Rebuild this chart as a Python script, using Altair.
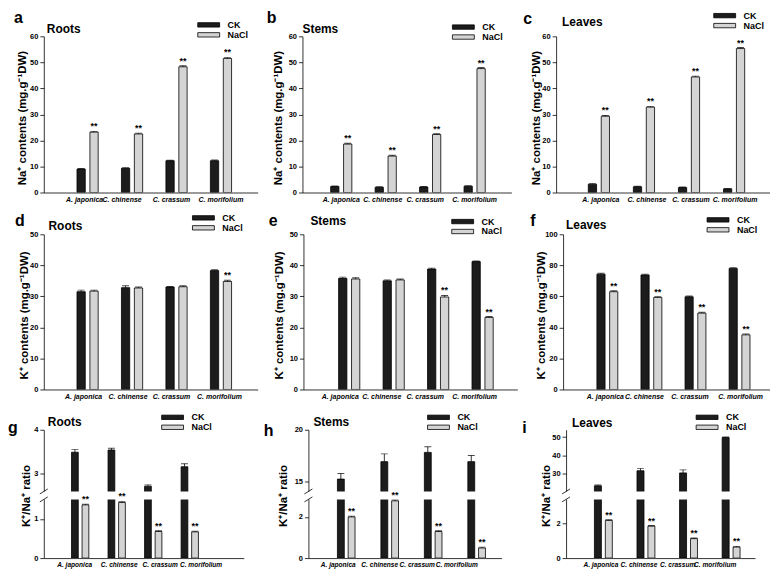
import altair as alt
import pandas as pd

species = ["A. japonica", "C. chinense", "C. crassum", "C. morifolium"]
treatments = ["CK", "NaCl"]

# (a) Na+ contents, roots
a_ck = [9.0, 9.3, 12.2, 12.2]
a_nacl = [23.2, 22.5, 48.3, 51.5]
a_ck_err = [0.2, 0.2, 0.2, 0.3]
a_nacl_err = [0.3, 0.3, 0.4, 0.4]
a_sig = [1, 1, 1, 1]
# (b) Na+ contents, stems
b_ck = [2.3, 2.0, 2.1, 2.4]
b_nacl = [18.6, 14.0, 22.3, 47.6]
b_ck_err = [0.2, 0.2, 0.2, 0.2]
b_nacl_err = [0.3, 0.3, 0.3, 0.4]
b_sig = [1, 1, 1, 1]
# (c) Na+ contents, leaves
c_ck = [3.2, 2.2, 1.9, 1.4]
c_nacl = [29.3, 32.8, 44.4, 55.3]
c_ck_err = [0.2, 0.2, 0.2, 0.2]
c_nacl_err = [0.3, 0.3, 0.3, 0.4]
c_sig = [1, 1, 1, 1]
# (d) K+ contents, roots
d_ck = [31.5, 32.8, 33.0, 38.3]
d_nacl = [31.7, 32.7, 33.1, 34.8]
d_ck_err = [0.5, 0.6, 0.2, 0.3]
d_nacl_err = [0.3, 0.3, 0.3, 0.4]
d_sig = [0, 0, 0, 1]
# (e) K+ contents, stems
e_ck = [35.8, 35.0, 38.8, 41.2]
e_nacl = [35.6, 35.3, 29.8, 23.2]
e_ck_err = [0.4, 0.3, 0.3, 0.2]
e_nacl_err = [0.4, 0.3, 0.5, 0.3]
e_sig = [0, 0, 1, 1]
# (f) K+ contents, leaves
f_ck = [74.3, 73.8, 59.7, 78.0]
f_nacl = [63.0, 59.3, 49.2, 35.2]
f_ck_err = [0.6, 0.5, 0.5, 0.5]
f_nacl_err = [0.6, 0.5, 0.6, 0.6]
f_sig = [1, 1, 1, 1]
# (g) K+/Na+ ratio, roots
g_ck = [3.49, 3.54, 2.72, 3.16]
g_nacl = [1.36, 1.42, 0.68, 0.67]
g_ck_err = [0.06, 0.04, 0.03, 0.07]
g_nacl_err = [0.02, 0.03, 0.02, 0.02]
g_sig = [1, 1, 1, 1]
# (h) K+/Na+ ratio, stems
h_ck = [15.2, 16.9, 17.8, 16.9]
h_nacl = [2.0, 2.78, 1.29, 0.49]
h_ck_err = [0.55, 0.75, 0.55, 0.6]
h_nacl_err = [0.04, 0.05, 0.04, 0.04]
h_sig = [1, 1, 1, 1]
# (i) K+/Na+ ratio, leaves
i_ck = [23.1, 31.4, 30.2, 49.7]
i_nacl = [2.15, 1.82, 1.11, 0.63]
i_ck_err = [0.5, 1.3, 1.7, 0.4]
i_nacl_err = [0.04, 0.04, 0.04, 0.04]
i_sig = [1, 1, 1, 1]

NA_TITLE = "Na⁺ contents (mg.g⁻¹DW)"
K_TITLE = "K⁺ contents (mg.g⁻¹DW)"
RATIO_TITLE = "K⁺/Na⁺ ratio"

FONT = "Liberation Sans"
CK_FILL = "#1c1c1c"
NACL_FILL = "#d4d4d4"
LEG_PATH = "M-5,-1H5V1H-5Z"
UP_H, GAP, LO_H = 62, 8, 59
H3 = UP_H + GAP + LO_H
H1, H2 = 157, 156

COLOR_SCALE = alt.Scale(domain=treatments, range=[CK_FILL, NACL_FILL])
OFFSET_SCALE = alt.Scale(domain=treatments, paddingInner=0.36, paddingOuter=0)


def x_axis(size, shifts):
    offset = {"condition": [{"test": "datum.value === '%s'" % s, "value": o}
                            for s, o in zip(species, shifts)], "value": 0}
    return alt.Axis(labelAngle=0, ticks=False, labelFont=FONT, labelFontStyle="italic",
                    labelFontWeight="bold", labelFontSize=size, labelColor="black",
                    labelPadding=3, labelOverlap=False, domainColor="black",
                    domainWidth=0.8, grid=False, title=None, labelOffset=offset)


def table(ck, nacl, ck_err, nacl_err, sig):
    vals = ck + nacl
    errs = ck_err + nacl_err
    return pd.DataFrame({
        "species": species * 2,
        "treatment": ["CK"] * len(species) + ["NaCl"] * len(species),
        "value": vals,
        "top": [v + e for v, e in zip(vals, errs)],
        "star": [""] * len(species) + ["**" if s else "" for s in sig],
    })


def band_scale(W, c1, step, band):
    n = len(species)
    pi = 1 - band / step
    po = min(1.0, (W / step - (n - pi)) / 2)
    step = W / (n - pi + 2 * po)
    align = (c1 - band / 2) / (W - step * (n - pi))
    align = max(0.0, min(1.0, align))
    return alt.Scale(domain=species, paddingInner=pi, paddingOuter=po, align=align)


def y_axis(values, title, tx, ty):
    return alt.Axis(values=values, tickSize=4, tickWidth=0.8, tickColor="black",
                    domainColor="black", domainWidth=0.8, labelFont=FONT,
                    labelFontWeight="bold", labelFontSize=7.5, labelColor="black",
                    labelPadding=2, grid=False, zindex=0,
                    title=title, titleFont=FONT, titleFontSize=11.5, titleFontWeight="bold",
                    titleColor="black", titleAngle=270, titleX=tx, titleY=ty,
                    titleBaseline="middle", titleAlign="center")


def legend(lx, ly):
    return alt.Legend(orient="none", legendX=lx, legendY=ly, title=None, direction="vertical",
                      symbolType=LEG_PATH, symbolSize=19.36, symbolStrokeColor="black",
                      symbolStrokeWidth=0.8, symbolOffset=6.25, labelOffset=14.5,
                      labelFont=FONT, labelFontWeight="bold", labelFontSize=9,
                      labelColor="black", rowPadding=0, padding=0)


def one_row():
    return alt.Chart(pd.DataFrame({"k": [0]}))


def labels(letter, name, lx, ly, tx, ty):
    src = alt.Chart(pd.DataFrame({"letter": [letter], "name": [name]}))
    let = src.mark_text(font=FONT, fontWeight="bold", fontSize=16, align="left",
                        baseline="alphabetic", color="black").encode(
        x=alt.value(lx), y=alt.value(ly), text="letter:N")
    nm = src.mark_text(font=FONT, fontWeight="bold", fontSize=12, align="left",
                       baseline="alphabetic", color="black").encode(
        x=alt.value(tx), y=alt.value(ty), text="name:N")
    return [let, nm]


def break_layers(W):
    mask = one_row().mark_rect(color="white").encode(
        x=alt.value(-3), x2=alt.value(W + 2), y=alt.value(UP_H), y2=alt.value(UP_H + GAP))
    s1 = one_row().mark_rule(color="black", strokeWidth=0.8).encode(
        x=alt.value(-4), y=alt.value(UP_H + 2.5), x2=alt.value(4), y2=alt.value(UP_H - 2.5))
    s2 = one_row().mark_rule(color="black", strokeWidth=0.8).encode(
        x=alt.value(-4), y=alt.value(UP_H + GAP + 2.5), x2=alt.value(4),
        y2=alt.value(UP_H + GAP - 2.5))
    return [mask, s1, s2]


def panel(df, W, H, xs, ysc, yaxis, leg, lab, shifts, xsize=7, mid=()):
    xa = x_axis(xsize, shifts)
    base = alt.Chart(df).encode(
        x=alt.X("species:N", scale=xs, axis=xa),
        xOffset=alt.XOffset("treatment:N", scale=OFFSET_SCALE),
    )
    bars = base.mark_bar(stroke="black", strokeWidth=0.8, clip=True).encode(
        y=alt.Y("value:Q", scale=ysc, axis=yaxis),
        color=alt.Color("treatment:N", scale=COLOR_SCALE, legend=leg))
    rules = base.mark_rule(color="black", strokeWidth=0.8, clip=True).encode(
        y=alt.Y("value:Q", scale=ysc, axis=yaxis), y2="top:Q")
    caps = base.mark_tick(color="black", thickness=0.9, size=7, orient="horizontal",
                          clip=True).encode(y=alt.Y("top:Q", scale=ysc, axis=yaxis))
    stars = base.transform_filter("datum.star != ''").mark_text(
        font=FONT, fontWeight="bold", fontSize=9, baseline="bottom", color="black"
    ).encode(y=alt.Y("top:Q", scale=ysc, axis=yaxis), text="star:N")
    layers = [bars, rules, caps] + list(mid) + [stars] + labels(*lab)
    return alt.layer(*layers).properties(width=W, height=H)


def simple_panel(df, W, H, xs, ydom, yvals, ytitle, tx, leg, lab, shifts):
    ysc = alt.Scale(domain=ydom, nice=False, zero=False)
    return panel(df, W, H, xs, ysc, y_axis(yvals, ytitle, tx, H * 0.52), leg, lab, shifts)


def broken_panel(df, W, xs, lo_max, up_min, up_max, yvals, tx, leg, lab, shifts):
    ysc = alt.Scale(domain=[0, lo_max, up_min, up_max], range=[H3, UP_H + GAP, UP_H, 0],
                    nice=False, zero=False)
    return panel(df, W, H3, xs, ysc, y_axis(yvals, RATIO_TITLE, tx, UP_H + GAP / 2),
                 leg, lab, shifts, xsize=6.6, mid=break_layers(W))


pa = simple_panel(table(a_ck, a_nacl, a_ck_err, a_nacl_err, a_sig), 215, H1,
                  band_scale(215, 44, 44.7, 21.3), [0, 60], [0, 10, 20, 30, 40, 50, 60],
                  NA_TITLE, -21, legend(155, -16), ("a", "Roots", -30, -13.7, 3, -3),
                  [-3, -10, -5, 0])
pb = simple_panel(table(b_ck, b_nacl, b_ck_err, b_nacl_err, b_sig), 210, H1,
                  band_scale(210, 39, 44.7, 21.3), [0, 60], [0, 10, 20, 30, 40, 50, 60],
                  NA_TITLE, -24, legend(151, -13.8), ("b", "Stems", -36, -13, 0, -3),
                  [0, -3, -5, 0])
pc = simple_panel(table(c_ck, c_nacl, c_ck_err, c_nacl_err, c_sig), 215, H1,
                  band_scale(215, 43, 45.3, 21.3), [0, 60], [0, 10, 20, 30, 40, 50, 60],
                  NA_TITLE, -20, legend(158.7, -25.3), ("c", "Leaves", -33, -12, 6, -10),
                  [2, 3, 2, 1])

pd_ = simple_panel(table(d_ck, d_nacl, d_ck_err, d_nacl_err, d_sig), 215, H2,
                   band_scale(215, 44, 44.7, 21.3), [0, 50], [0, 10, 20, 30, 40, 50],
                   K_TITLE, -19.5, legend(149.7, -21), ("d", "Roots", -29, -8, 4.7, -4),
                   [-4, -4, -5, -1.5])
pe = simple_panel(table(e_ck, e_nacl, e_ck_err, e_nacl_err, e_sig), 215, H2,
                  band_scale(215, 46, 44.7, 21.3), [0, 50], [0, 10, 20, 30, 40, 50],
                  K_TITLE, -24, legend(149.3, -17.3), ("e", "Stems", -35, -8, 7, -9),
                  [-9, -12, -13, -8])
pf = simple_panel(table(f_ck, f_nacl, f_ck_err, f_nacl_err, f_sig), 208, H2,
                  band_scale(208, 44.5, 44.3, 21), [0, 100], [0, 20, 40, 60, 80, 100],
                  K_TITLE, -22, legend(145, -19), ("f", "Leaves", -33, -8, 3, -5.7),
                  [-2, -7, -5.5, 1])

pg = broken_panel(table(g_ck, g_nacl, g_ck_err, g_nacl_err, g_sig), 201,
                  band_scale(201, 36.5, 36.5, 17.3), 1.5, 2.6, 4, [0, 1, 3, 4],
                  -17, legend(118.7, -17), ("g", "Roots", -36, 3, 4, -3.3),
                  [-5.5, 2.5, 7, 11.4])
ph = broken_panel(table(h_ck, h_nacl, h_ck_err, h_nacl_err, h_sig), 194,
                  band_scale(194, 38, 43.7, 17.7), 2.85, 14, 20, [0, 2, 15, 20],
                  -25, legend(120, -17), ("h", "Stems", -45, 6, 5, -3.3),
                  [-8, -10, -16, -20])
pi_ = broken_panel(table(i_ck, i_nacl, i_ck_err, i_nacl_err, i_sig), 190,
                   band_scale(190, 37.5, 42.8, 18), 3.35, 20, 54, [0, 2, 30, 40, 50],
                   -20, legend(131, -17), ("i", "Leaves", -44, 3, 6, -3),
                   [-2.5, -7, -11, -16])

RES = dict(x="independent", y="independent", color="independent", xOffset="independent")

row1 = alt.hconcat(pa, pb, pc, spacing=45, bounds="flush").resolve_scale(**RES)
row2 = alt.hconcat(pd_, pe, pf, spacing=46, bounds="flush").resolve_scale(**RES)
row3 = alt.hconcat(pg, ph, pi_, spacing=65, bounds="flush").resolve_scale(**RES)

top = alt.vconcat(row1, row2, spacing=11).resolve_scale(**RES)
chart = alt.vconcat(top, row3, spacing=13.5).resolve_scale(**RES).properties(
    padding=0, background="white"
).configure_view(stroke=None)

chart.save("out.html", embed_options={"renderer": "svg", "actions": False})
